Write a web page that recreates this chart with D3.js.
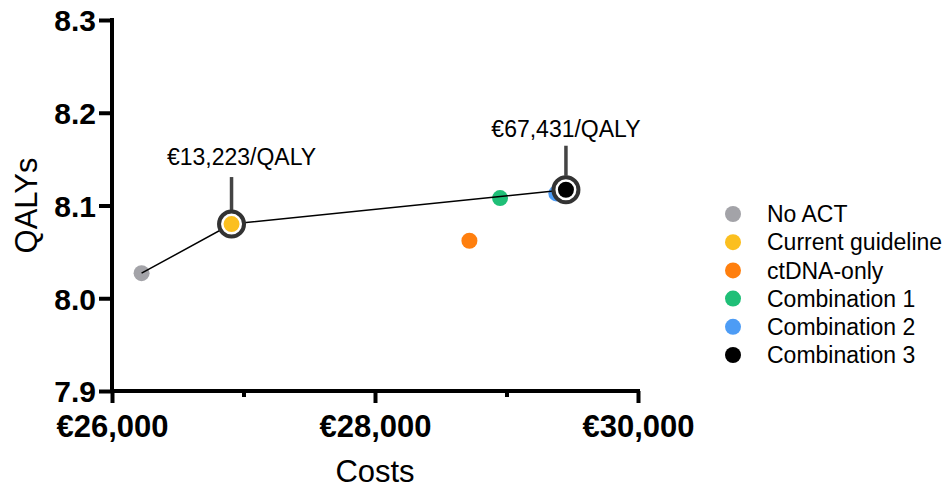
<!DOCTYPE html>
<html>
<head>
<meta charset="utf-8">
<script src="https://cdn.jsdelivr.net/npm/d3@7"></script>
<style>
  html, body { margin: 0; padding: 0; background: #fff; }
  svg { display: block; font-family: "Liberation Sans", Arial, Helvetica, sans-serif; }
</style>
</head>
<body>
<svg id="chart" width="944" height="488"></svg>
<script>
// ---- data ----
const categories = ["No ACT", "Current guideline", "ctDNA-only", "Combination 1", "Combination 2", "Combination 3"];
const costs = [26225, 26909, 28718, 28951, 29379, 29452];
const qalys = [8.027, 8.080, 8.062, 8.108, 8.113, 8.117];
const colors = ["#a3a3a8", "#fbbf1f", "#ff7f0e", "#1fbf77", "#4d9cf5", "#000000"];
const frontier = ["No ACT", "Current guideline", "Combination 3"];
const icerCategories = ["Current guideline", "Combination 3"];
const icerTexts = ["€13,223/QALY", "€67,431/QALY"];
const xTicks = [26000, 27000, 28000, 29000, 30000];
const xTickLabels = ["€26,000", "", "€28,000", "", "€30,000"];
const yTicks = [7.9, 8.0, 8.1, 8.2, 8.3];
const yTickLabels = ["7.9", "8.0", "8.1", "8.2", "8.3"];

const data = categories.map((c, i) => ({ category: c, cost: costs[i], qaly: qalys[i], color: colors[i] }));
const byCat = Object.fromEntries(data.map(d => [d.category, d]));
const icers = icerCategories.map((c, i) => ({ category: c, text: icerTexts[i] }));
// label layout (pixel offsets, kept apart from data)
const labelLayout = { "Current guideline": { dx: 10, dy: -59, stem: 47 }, "Combination 3": { dx: 0, dy: -53, stem: 44 } };

const svg = d3.select("#chart");
const x = d3.scaleLinear().domain([26000, 30000]).range([112, 638]);
const y = d3.scaleLinear().domain([7.9, 8.3]).range([391, 20]);

// ---- axes ----
const xAxis = d3.axisBottom(x).tickValues(xTicks).tickSize(11).tickSizeOuter(0)
  .tickFormat((d, i) => xTickLabels[i]);
const gx = svg.append("g").attr("transform", `translate(0,${y(7.9)})`).call(xAxis);
gx.select(".domain").attr("stroke", "#000").attr("stroke-width", 4)
  .attr("d", `M${x(26000) - 2},0H${x(30000) + 2}`);
gx.selectAll(".tick line").attr("stroke", "#000").attr("stroke-width", 4)
  .attr("y2", (d, i) => xTickLabels[i] ? 12 : 6);
gx.selectAll(".tick text").attr("fill", "#000").attr("font-size", 31).attr("font-weight", "bold")
  .attr("y", 24).attr("dy", "0.71em");

const yAxis = d3.axisLeft(y).tickValues(yTicks).tickSize(11).tickSizeOuter(0)
  .tickFormat((d, i) => yTickLabels[i]);
const gy = svg.append("g").attr("transform", `translate(${x(26000)},0)`).call(yAxis);
gy.select(".domain").attr("stroke", "#000").attr("stroke-width", 4)
  .attr("d", `M0,${y(8.3) - 2}V${y(7.9) + 2}`);
gy.selectAll(".tick line").attr("stroke", "#000").attr("stroke-width", 4).attr("x2", -13);
gy.selectAll(".tick text").attr("fill", "#000").attr("font-size", 30).attr("font-weight", "bold")
  .attr("x", -16).attr("dy", "0.36em");

// axis titles
svg.append("text").attr("x", (x(26000) + x(30000)) / 2).attr("y", 482)
  .attr("text-anchor", "middle").attr("font-size", 31).attr("fill", "#000").text("Costs");
svg.append("text").attr("transform", `translate(37,${(y(7.9) + y(8.3)) / 2}) rotate(-90)`)
  .attr("text-anchor", "middle").attr("font-size", 31).attr("fill", "#000").text("QALYs");

// ---- non-frontier points ----
const R = 8;
svg.append("g").selectAll("circle")
  .data(data.filter(d => !icerCategories.includes(d.category)))
  .join("circle")
  .attr("cx", d => x(d.cost)).attr("cy", d => y(d.qaly)).attr("r", R).attr("fill", d => d.color);

// ---- frontier line ----
const line = d3.line().x(d => x(d.cost)).y(d => y(d.qaly));
svg.append("path").datum(frontier.map(c => byCat[c]))
  .attr("d", line).attr("fill", "none").attr("stroke", "#000").attr("stroke-width", 1.5);

// ---- annotation rings, stems, labels ----
const ann = svg.append("g").selectAll("g").data(icers).join("g")
  .attr("transform", d => `translate(${x(byCat[d.category].cost)},${y(byCat[d.category].qaly)})`);
ann.append("line").attr("x1", 0).attr("x2", 0).attr("y1", -14).attr("y2", d => -labelLayout[d.category].stem)
  .attr("stroke", "#444").attr("stroke-width", 3.5);
ann.append("circle").attr("r", 12.5).attr("fill", "#fff").attr("stroke", "#333").attr("stroke-width", 4);
ann.append("circle").attr("r", R).attr("fill", d => byCat[d.category].color);
ann.append("text").attr("x", d => labelLayout[d.category].dx).attr("y", d => labelLayout[d.category].dy)
  .attr("text-anchor", "middle").attr("font-size", 23).attr("fill", "#000").text(d => d.text);

// ---- legend ----
const legend = svg.append("g").selectAll("g").data(data).join("g")
  .attr("transform", (d, i) => `translate(733,${214 + i * 28.2})`);
legend.append("circle").attr("r", 8).attr("fill", d => d.color);
legend.append("text").attr("x", 34).attr("dy", "0.36em").attr("font-size", 23).attr("fill", "#000")
  .text(d => d.category);
</script>
</body>
</html>
